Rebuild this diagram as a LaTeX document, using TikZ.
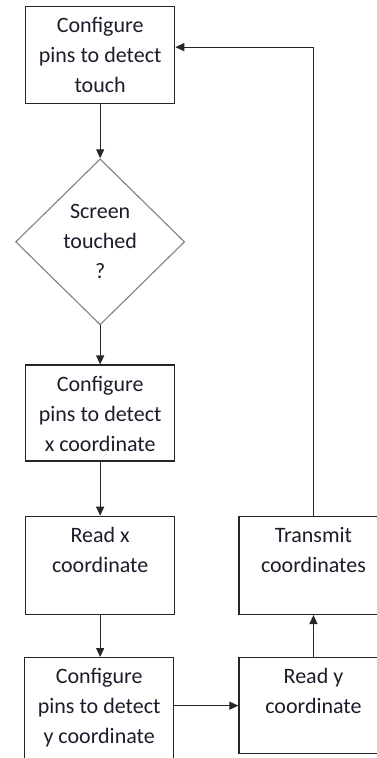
\documentclass[tikz,border=0pt]{standalone}
\usepackage{fontspec}
\setmainfont{Carlito}
\usetikzlibrary{positioning,arrows.meta,shapes.geometric}
\definecolor{flowink}{HTML}{1C1C2A}
\definecolor{flowline}{HTML}{262626}
\definecolor{flowgray}{HTML}{808080}
% top-aligned text inside a fixed-size box
\newcommand{\steptext}[2][97pt]{\parbox[c][#1][t]{149pt}{\centering\rule{0pt}{26pt}#2}}
\tikzset{
    stepbox/.style={draw=flowline,line width=1.3pt,rectangle,inner sep=0pt,text=flowink},
    decide/.style={diamond,draw=flowgray,line width=1.1pt,inner sep=0pt,
        minimum width=169pt,minimum height=166pt,align=center,text=flowink},
    flow/.style={draw=flowline,line width=1.2pt,-{Triangle[length=9pt,width=8pt]}},
}

\begin{document}
\begin{tikzpicture}[font=\fontsize{22pt}{30pt}\selectfont]
    \useasboundingbox (0,0) rectangle (377pt,-758pt);
    \node[stepbox,anchor=north west] (cfgtouch) at (25pt,-6pt) {\steptext{Configure\\pins to detect\\touch}};
    \node[decide,below=54pt of cfgtouch] (touched) {Screen\\touched\\?};
    \node[stepbox,below=39pt of touched] (cfgx) {\steptext[96pt]{Configure\\pins to detect\\x coordinate}};
    \node[stepbox,below=54pt of cfgx] (readx) {\steptext[98pt]{Read x\\coordinate}};
    \node[stepbox,below=42pt of readx,anchor=north,xshift=-1pt] (cfgy) {\steptext[130pt]{Configure\\pins to detect\\y coordinate}};
    \node[stepbox,right=63pt of readx] (transmit) {\steptext[98pt]{Transmit\\coordinates}};
    \node[stepbox,below=42pt of transmit] (ready) {\steptext[96pt]{Read y\\coordinate}};

    \draw[flow] (cfgtouch) -- (touched);
    \draw[flow] (touched) -- (cfgx);
    \draw[flow] (cfgx) -- (readx);
    \draw[flow] (readx) -- (readx |- cfgy.north);
    \draw[flow] (cfgy.east |- ready) -- (ready);
    \draw[flow] (ready) -- (transmit);
    \draw[flow] (transmit.north) |- ([yshift=8pt]cfgtouch.east);
\end{tikzpicture}
\end{document}
